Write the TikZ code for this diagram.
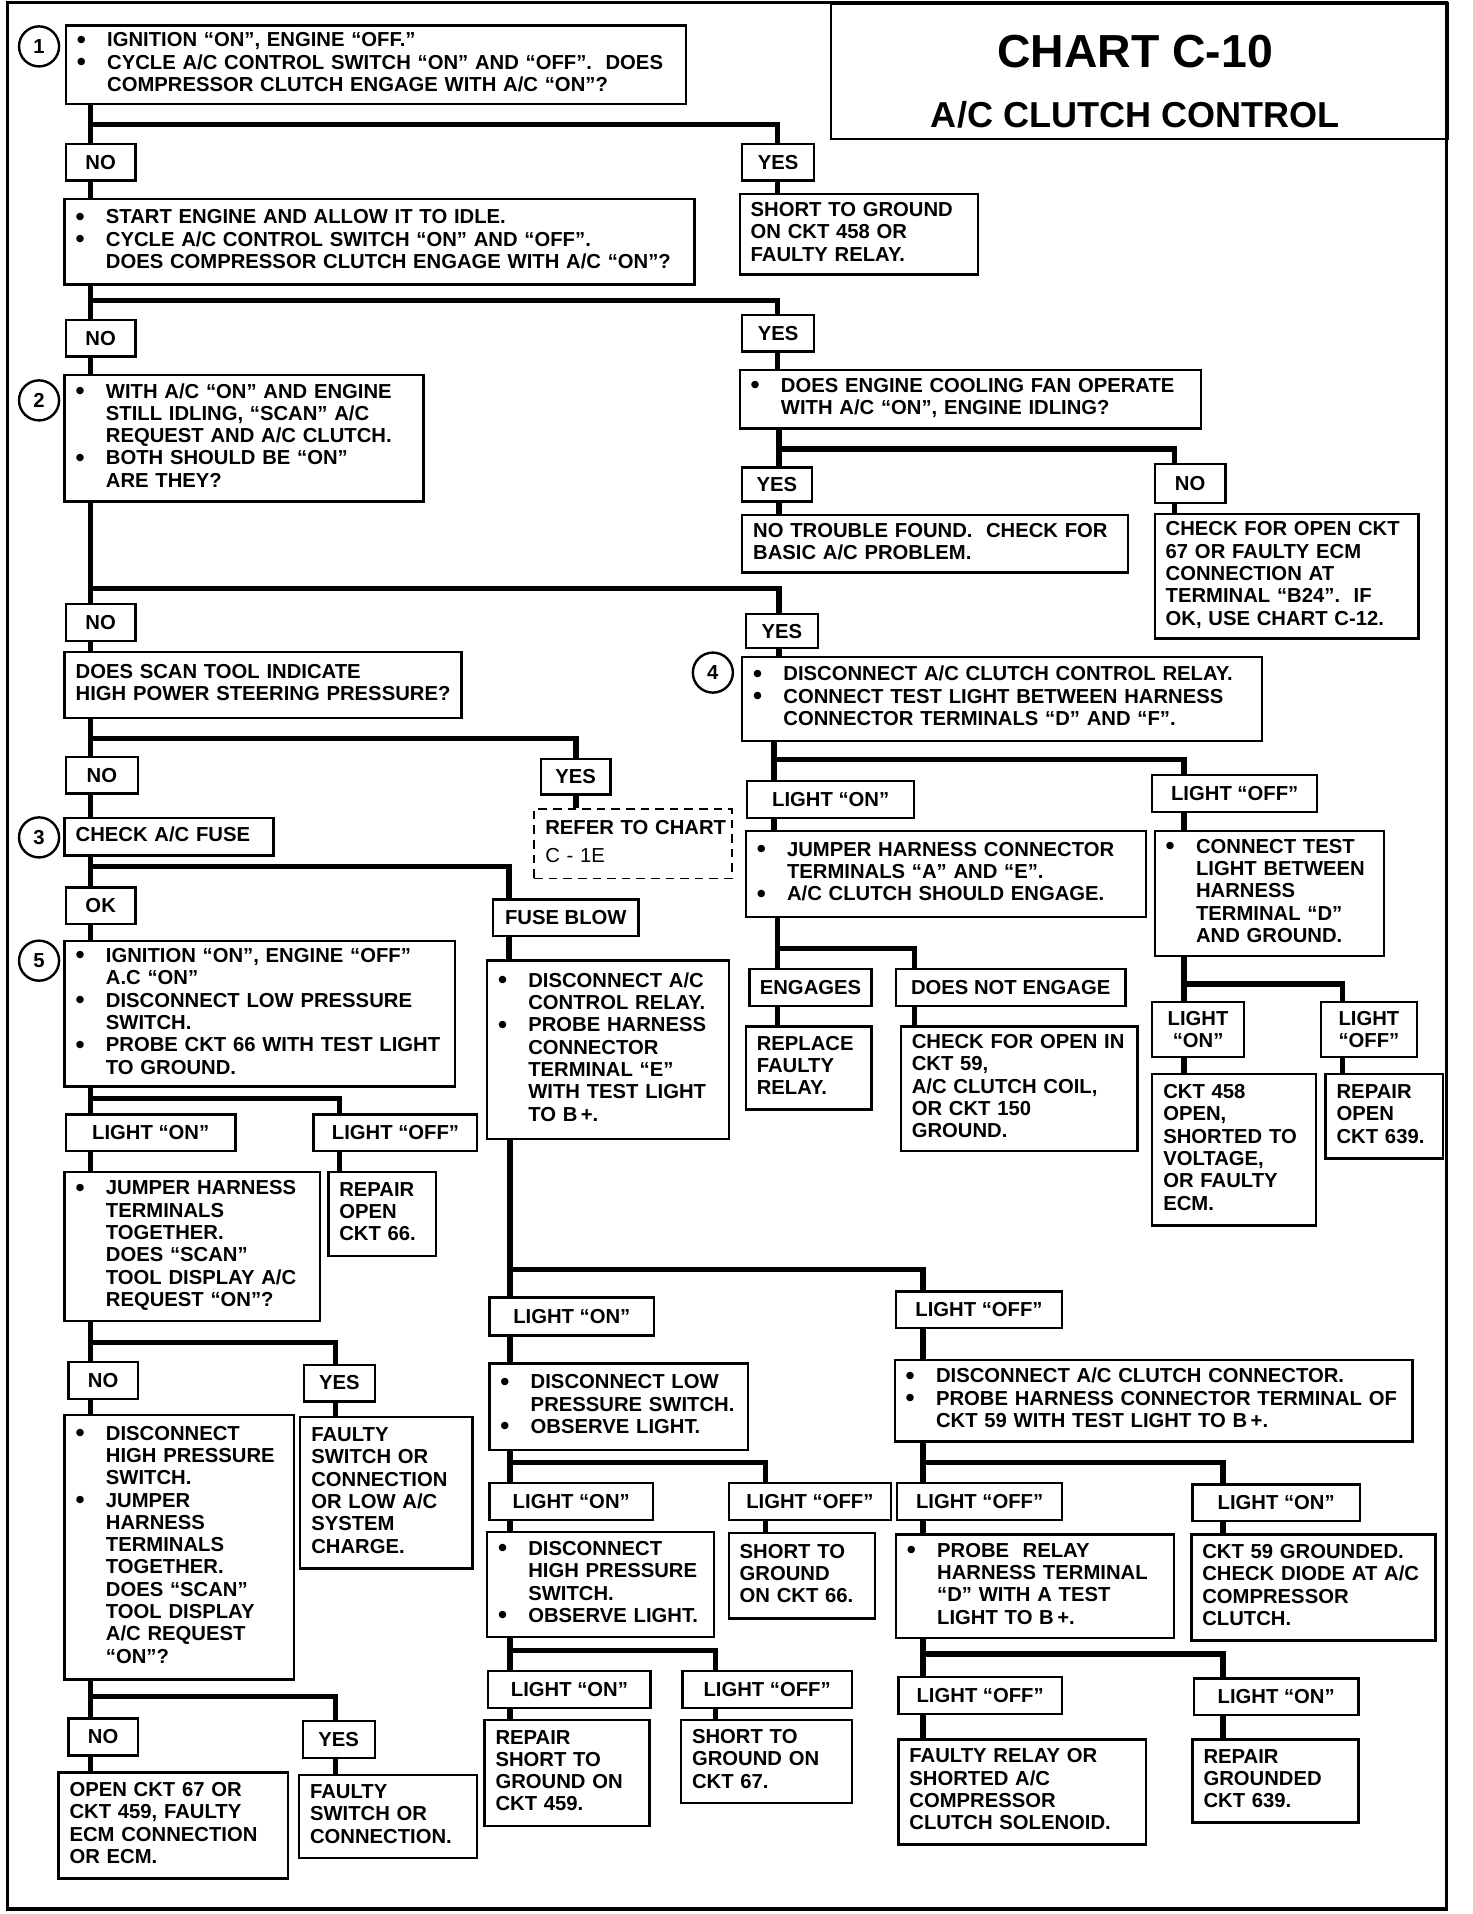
\documentclass[tikz,border=0pt]{standalone}
\usepackage{fontspec}
\setmainfont{Liberation Sans}

\newcommand\chartfont{\fontsize{11.8pt}{13pt}\selectfont\bfseries}
\newcommand\bul{\makebox[0.62cm][l]{\raisebox{-0.8pt}{\fontsize{15pt}{13pt}\selectfont\textbullet}}}
\newcommand\ind{\hspace*{0.62cm}}
\newcommand\lns[1]{\begin{tabular}{@{}l@{}}#1\end{tabular}}

\tikzset{
  box/.style n args={2}{draw, line width=1.4pt, anchor=north west, inner xsep=0.225cm, inner ysep=0pt,
    minimum width=#1*0.025cm, minimum height=#2*0.025cm, font=\chartfont, align=left,
    /utils/exec={\pgfmathsetlengthmacro\boxtw{(#1-18)*0.025cm}}, text width=\boxtw},
  tag/.style n args={2}{draw, line width=1.4pt, anchor=north west, inner sep=0pt,
    minimum width=#1*0.025cm, minimum height=#2*0.025cm, font=\chartfont, align=center},
  num/.style={draw, circle, line width=1.4pt, minimum size=0.82cm, inner sep=0pt, font=\chartfont},
  wire/.style={line width=3.2pt},
}

\begin{document}
\begin{tikzpicture}[x=0.025cm, y=-0.025cm, line join=miter]
  \useasboundingbox (0,0) rectangle (1206,1568);
  \draw[line width=2pt] (6,2) rectangle (1185,1564);
  \node[draw, line width=1.4pt, anchor=north west, inner sep=0pt,
    minimum width=505*0.025cm, minimum height=111*0.025cm] (titlebox) at (680,2) {};
  \node[font=\fontsize{27pt}{30pt}\selectfont\bfseries] (title) at (930,42) {CHART C-10};
  \node[font=\fontsize{21pt}{24pt}\selectfont\bfseries] (subtitle) at (930,94) {A/C CLUTCH CONTROL};

  \node[num] (n1) at (32,38) {1};
  \node[num] (n2) at (32,328) {2};
  \node[num] (n3) at (32,686) {3};
  \node[num] (n4) at (584,551) {4};
  \node[num] (n5) at (32,787) {5};

  \node[box={508}{64}] (q1) at (53,20) {\lns{\bul IGNITION “ON”, ENGINE “OFF.”\\ \bul CYCLE A/C CONTROL SWITCH “ON” AND “OFF”.\ \ DOES\\ \ind COMPRESSOR CLUTCH ENGAGE WITH A/C “ON”?}};
  \node[tag={57}{30}] (no1) at (53,117) {NO};
  \node[tag={59}{30}] (yes1) at (607,117) {YES};
  \node[box={195}{66}] (r1) at (605,158) {\lns{SHORT TO GROUND\\ ON CKT 458 OR\\ FAULTY RELAY.}};
  \node[box={516}{70}] (q2) at (52,162) {\lns{\bul START ENGINE AND ALLOW IT TO IDLE.\\ \bul CYCLE A/C CONTROL SWITCH “ON” AND “OFF”.\\ \ind DOES COMPRESSOR CLUTCH ENGAGE WITH A/C “ON”?}};
  \node[tag={57}{30}] (no2) at (53,261) {NO};
  \node[tag={59}{30}] (yes2) at (607,257) {YES};
  \node[box={378}{48}] (q3) at (605,302) {\lns{\bul DOES ENGINE COOLING FAN OPERATE\\ \ind WITH A/C “ON”, ENGINE IDLING?}};
  \node[tag={57}{28}] (yes3) at (607,382) {YES};
  \node[tag={58}{32}] (no3) at (945,379) {NO};
  \node[box={316}{47}] (r2) at (607,421) {\lns{NO TROUBLE FOUND.\ \ CHECK FOR\\ BASIC A/C PROBLEM.}};
  \node[box={216}{102}] (r3) at (945,420) {\lns{CHECK FOR OPEN CKT\\ 67 OR FAULTY ECM\\ CONNECTION AT\\ TERMINAL “B24”.\ \ IF\\ OK, USE CHART C-12.}};
  \node[box={294}{104}] (q4) at (52,306) {\lns{\bul WITH A/C “ON” AND ENGINE\\ \ind STILL IDLING, “SCAN” A/C\\ \ind REQUEST AND A/C CLUTCH.\\ \bul BOTH SHOULD BE “ON”\\ \ind ARE THEY?}};
  \node[tag={57}{30}] (no4) at (53,494) {NO};
  \node[tag={59}{28}] (yes4) at (610,502) {YES};
  \node[box={325}{54}] (q5) at (52,533) {\lns{DOES SCAN TOOL INDICATE\\ HIGH POWER STEERING PRESSURE?}};
  \node[tag={59}{30}] (no5) at (53,619) {NO};
  \node[tag={57}{29}] (yes5) at (442,621) {YES};
  \node[box={162}{57}, line width=1pt, dash pattern=on 5pt off 3.5pt] (ref) at (437,662) {\lns{REFER TO CHART\\[3.5pt] {\mdseries C - 1E}}};
  \node[box={171}{31}] (q6) at (52,669) {\lns{CHECK A/C FUSE}};
  \node[tag={57}{30}] (ok) at (53,726) {OK};
  \node[tag={119}{30}] (blow) at (403,736) {FUSE BLOW};
  \node[box={320}{119}] (q7) at (52,770) {\lns{\bul IGNITION “ON”, ENGINE “OFF”\\ \ind A.C “ON”\\ \bul DISCONNECT LOW PRESSURE\\ \ind SWITCH.\\ \bul PROBE CKT 66 WITH TEST LIGHT\\ \ind TO GROUND.}};
  \node[tag={139}{30}] (on1) at (53,912) {LIGHT “ON”};
  \node[tag={134}{30}] (off1) at (256,912) {LIGHT “OFF”};
  \node[box={209}{122}] (q8) at (52,959) {\lns{\bul JUMPER HARNESS\\ \ind TERMINALS\\ \ind TOGETHER.\\ \ind DOES “SCAN”\\ \ind TOOL DISPLAY A/C\\ \ind REQUEST “ON”?}};
  \node[box={88}{69}] (r4) at (268,959) {\lns{REPAIR\\ OPEN\\ CKT 66.}};
  \node[tag={57}{30}] (no6) at (55,1115) {NO};
  \node[tag={58}{30}] (yes6) at (248,1117) {YES};
  \node[box={188}{217}] (q9) at (52,1158) {\lns{\bul DISCONNECT\\ \ind HIGH PRESSURE\\ \ind SWITCH.\\ \bul JUMPER\\ \ind HARNESS\\ \ind TERMINALS\\ \ind TOGETHER.\\ \ind DOES “SCAN”\\ \ind TOOL DISPLAY\\ \ind A/C REQUEST\\ \ind “ON”?}};
  \node[box={141}{124}] (r5) at (245,1160) {\lns{FAULTY\\ SWITCH OR\\ CONNECTION\\ OR LOW A/C\\ SYSTEM\\ CHARGE.}};
  \node[tag={57}{30}] (no7) at (55,1407) {NO};
  \node[tag={59}{30}] (yes7) at (247,1409) {YES};
  \node[box={188}{87}] (r6) at (47,1451) {\lns{OPEN CKT 67 OR\\ CKT 459, FAULTY\\ ECM CONNECTION\\ OR ECM.}};
  \node[box={146}{68}] (r7) at (244,1453) {\lns{FAULTY\\ SWITCH OR\\ CONNECTION.}};

  \node[box={426}{69}] (q10) at (607,537) {\lns{\bul DISCONNECT A/C CLUTCH CONTROL RELAY.\\ \bul CONNECT TEST LIGHT BETWEEN HARNESS\\ \ind CONNECTOR TERMINALS “D” AND “F”.}};
  \node[tag={137}{30}] (on2) at (611,639) {LIGHT “ON”};
  \node[tag={135}{30}] (off2) at (943,634) {LIGHT “OFF”};
  \node[box={328}{70}] (q11) at (610,680) {\lns{\bul JUMPER HARNESS CONNECTOR\\ \ind TERMINALS “A” AND “E”.\\ \bul A/C CLUTCH SHOULD ENGAGE.}};
  \node[box={188}{102}] (q12) at (945,680) {\lns{\bul CONNECT TEST\\ \ind LIGHT BETWEEN\\ \ind HARNESS\\ \ind TERMINAL “D”\\ \ind AND GROUND.}};
  \node[tag={100}{30}] (eng) at (613,793) {ENGAGES};
  \node[tag={188}{30}] (neng) at (733,793) {DOES NOT ENGAGE};
  \node[box={103}{68}] (r8) at (610,840) {\lns{REPLACE\\ FAULTY\\ RELAY.}};
  \node[box={194}{102}] (r9) at (737,840) {\lns{CHECK FOR OPEN IN\\ CKT 59,\\ A/C CLUTCH COIL,\\ OR CKT 150\\ GROUND.}};
  \node[tag={75}{45}] (on3) at (943,820) {LIGHT\\ “ON”};
  \node[tag={79}{45}] (off3) at (1081,820) {LIGHT\\ “OFF”};
  \node[box={134}{124}] (r10) at (943,879) {\lns{CKT 458\\ OPEN,\\ SHORTED TO\\ VOLTAGE,\\ OR FAULTY\\ ECM.}};
  \node[box={96}{69}] (r11) at (1085,879) {\lns{REPAIR\\ OPEN\\ CKT 639.}};

  \node[box={198}{146}] (q13) at (398,786) {\lns{\bul DISCONNECT A/C\\ \ind CONTROL RELAY.\\ \bul PROBE HARNESS\\ \ind CONNECTOR\\ \ind TERMINAL “E”\\ \ind WITH TEST LIGHT\\ \ind TO B\,+.}};
  \node[tag={135}{31}] (on4) at (400,1062) {LIGHT “ON”};
  \node[tag={136}{30}] (off4) at (733,1057) {LIGHT “OFF”};
  \node[box={212}{71}] (q14) at (400,1116) {\lns{\bul DISCONNECT LOW\\ \ind PRESSURE SWITCH.\\ \bul OBSERVE LIGHT.}};
  \node[tag={134}{30}] (on5) at (400,1214) {LIGHT “ON”};
  \node[tag={133}{30}] (off5) at (596,1214) {LIGHT “OFF”};
  \node[box={186}{86}] (q15) at (398,1254) {\lns{\bul DISCONNECT\\ \ind HIGH PRESSURE\\ \ind SWITCH.\\ \bul OBSERVE LIGHT.}};
  \node[box={120}{70}] (r12) at (596,1255) {\lns{SHORT TO\\ GROUND\\ ON CKT 66.}};
  \node[tag={133}{30}] (on6) at (399,1368) {LIGHT “ON”};
  \node[tag={139}{30}] (off6) at (558,1368) {LIGHT “OFF”};
  \node[box={135}{87}] (r13) at (396,1408) {\lns{REPAIR\\ SHORT TO\\ GROUND ON\\ CKT 459.}};
  \node[box={140}{68}] (r14) at (557,1408) {\lns{SHORT TO\\ GROUND ON\\ CKT 67.}};

  \node[box={424}{67}] (q16) at (732,1113) {\lns{\bul DISCONNECT A/C CLUTCH CONNECTOR.\\ \bul PROBE HARNESS CONNECTOR TERMINAL OF\\ \ind CKT 59 WITH TEST LIGHT TO B\,+.}};
  \node[tag={135}{30}] (off7) at (734,1214) {LIGHT “OFF”};
  \node[tag={137}{30}] (on7) at (976,1215) {LIGHT “ON”};
  \node[box={228}{85}] (q17) at (733,1256) {\lns{\bul PROBE\ \ RELAY\\ \ind HARNESS TERMINAL\\ \ind “D” WITH A TEST\\ \ind LIGHT TO B\,+.}};
  \node[box={200}{87}] (r15) at (975,1256) {\lns{CKT 59 GROUNDED.\\ CHECK DIODE AT A/C\\ COMPRESSOR\\ CLUTCH.}};
  \node[tag={134}{30}] (off8) at (735,1373) {LIGHT “OFF”};
  \node[tag={135}{30}] (on8) at (977,1374) {LIGHT “ON”};
  \node[box={203}{86}] (r16) at (735,1424) {\lns{FAULTY RELAY OR\\ SHORTED A/C\\ COMPRESSOR\\ CLUTCH SOLENOID.}};
  \node[box={136}{68}] (r17) at (976,1424) {\lns{REPAIR\\ GROUNDED\\ CKT 639.}};

  \coordinate (j1) at (74,102);   \coordinate (k1) at (637,102);
  \coordinate (j2) at (74,246);   \coordinate (k2) at (637,246);
  \coordinate (j3) at (638,368);  \coordinate (k3) at (962,368);
  \coordinate (j4) at (74,482);   \coordinate (k4) at (638,482);
  \coordinate (j5) at (74,605);   \coordinate (k5) at (472,605);
  \coordinate (j6) at (74,710);   \coordinate (k6) at (417,710);
  \coordinate (j7) at (74,900);   \coordinate (k7) at (278,900);
  \coordinate (j8) at (74,1100);  \coordinate (k8) at (275,1100);
  \coordinate (j9) at (74,1390);  \coordinate (k9) at (275,1390);
  \coordinate (j10) at (418,1040); \coordinate (k10) at (756,1040);
  \coordinate (j11) at (418,1198); \coordinate (k11) at (627,1198);
  \coordinate (j12) at (418,1352); \coordinate (k12) at (586,1352);
  \coordinate (j13) at (756,1198); \coordinate (k13) at (1002,1198);
  \coordinate (j14) at (756,1355); \coordinate (k14) at (1002,1355);
  \coordinate (j15) at (634,622);  \coordinate (k15) at (970,622);
  \coordinate (j16) at (637,777);  \coordinate (k16) at (749,777);
  \coordinate (j17) at (970,806);  \coordinate (k17) at (1100,806);

  \draw[wire] (q1.south -| j1) -- (no1.north -| j1);
  \draw[wire] (j1) -- (k1) -- (yes1.north -| k1);
  \draw[wire] (no1.south -| j1) -- (q2.north -| j1);
  \draw[wire] (yes1.south -| k1) -- (r1.north -| k1);
  \draw[wire] (q2.south -| j2) -- (no2.north -| j2);
  \draw[wire] (j2) -- (k2) -- (yes2.north -| k2);
  \draw[wire] (no2.south -| j2) -- (q4.north -| j2);
  \draw[wire] (yes2.south -| k2) -- (q3.north -| k2);
  \draw[wire] (q3.south -| j3) -- (yes3.north -| j3);
  \draw[wire] (j3) -- (k3) -- (no3.north -| k3);
  \draw[wire] (yes3.south -| j3) -- (r2.north -| j3);
  \draw[wire] (no3.south -| k3) -- (r3.north -| k3);
  \draw[wire] (q4.south -| j4) -- (no4.north -| j4);
  \draw[wire] (j4) -- (k4) -- (yes4.north -| k4);
  \draw[wire] (no4.south -| j4) -- (q5.north -| j4);
  \draw[wire] (yes4.south -| k4) -- (q10.north -| k4);
  \draw[wire] (q5.south -| j5) -- (no5.north -| j5);
  \draw[wire] (j5) -- (k5) -- (yes5.north -| k5);
  \draw[wire] (no5.south -| j5) -- (q6.north -| j5);
  \draw[wire] (yes5.south -| k5) -- (ref.north -| k5);
  \draw[wire] (q6.south -| j6) -- (ok.north -| j6);
  \draw[wire] (j6) -- (k6) -- (blow.north -| k6);
  \draw[wire] (ok.south -| j6) -- (q7.north -| j6);
  \draw[wire] (blow.south -| k6) -- (q13.north -| k6);
  \draw[wire] (q7.south -| j7) -- (on1.north -| j7);
  \draw[wire] (j7) -- (k7) -- (off1.north -| k7);
  \draw[wire] (on1.south -| j7) -- (q8.north -| j7);
  \draw[wire] (off1.south -| k7) -- (r4.north -| k7);
  \draw[wire] (q8.south -| j8) -- (no6.north -| j8);
  \draw[wire] (j8) -- (k8) -- (yes6.north -| k8);
  \draw[wire] (no6.south -| j8) -- (q9.north -| j8);
  \draw[wire] (yes6.south -| k8) -- (r5.north -| k8);
  \draw[wire] (q9.south -| j9) -- (no7.north -| j9);
  \draw[wire] (j9) -- (k9) -- (yes7.north -| k9);
  \draw[wire] (no7.south -| j9) -- (r6.north -| j9);
  \draw[wire] (yes7.south -| k9) -- (r7.north -| k9);
  \draw[wire] (q13.south -| j10) -- (on4.north -| j10);
  \draw[wire] (j10) -- (k10) -- (off4.north -| k10);
  \draw[wire] (on4.south -| j10) -- (q14.north -| j10);
  \draw[wire] (off4.south -| k10) -- (q16.north -| k10);
  \draw[wire] (q14.south -| j11) -- (on5.north -| j11);
  \draw[wire] (j11) -- (k11) -- (off5.north -| k11);
  \draw[wire] (on5.south -| j11) -- (q15.north -| j11);
  \draw[wire] (off5.south -| k11) -- (r12.north -| k11);
  \draw[wire] (q15.south -| j12) -- (on6.north -| j12);
  \draw[wire] (j12) -- (k12) -- (off6.north -| k12);
  \draw[wire] (on6.south -| j12) -- (r13.north -| j12);
  \draw[wire] (off6.south -| k12) -- (r14.north -| k12);
  \draw[wire] (q16.south -| j13) -- (off7.north -| j13);
  \draw[wire] (j13) -- (k13) -- (on7.north -| k13);
  \draw[wire] (off7.south -| j13) -- (q17.north -| j13);
  \draw[wire] (on7.south -| k13) -- (r15.north -| k13);
  \draw[wire] (q17.south -| j14) -- (off8.north -| j14);
  \draw[wire] (j14) -- (k14) -- (on8.north -| k14);
  \draw[wire] (off8.south -| j14) -- (r16.north -| j14);
  \draw[wire] (on8.south -| k14) -- (r17.north -| k14);
  \draw[wire] (q10.south -| j15) -- (on2.north -| j15);
  \draw[wire] (j15) -- (k15) -- (off2.north -| k15);
  \draw[wire] (on2.south -| j15) -- (q11.north -| j15);
  \draw[wire] (off2.south -| k15) -- (q12.north -| k15);
  \draw[wire] (q11.south -| j16) -- (eng.north -| j16);
  \draw[wire] (j16) -- (k16) -- (neng.north -| k16);
  \draw[wire] (eng.south -| j16) -- (r8.north -| j16);
  \draw[wire] (neng.south -| k16) -- (r9.north -| k16);
  \draw[wire] (q12.south -| j17) -- (on3.north -| j17);
  \draw[wire] (j17) -- (k17) -- (off3.north -| k17);
  \draw[wire] (on3.south -| j17) -- (r10.north -| j17);
  \draw[wire] (off3.south -| k17) -- (r11.north -| k17);
\end{tikzpicture}
\end{document}
